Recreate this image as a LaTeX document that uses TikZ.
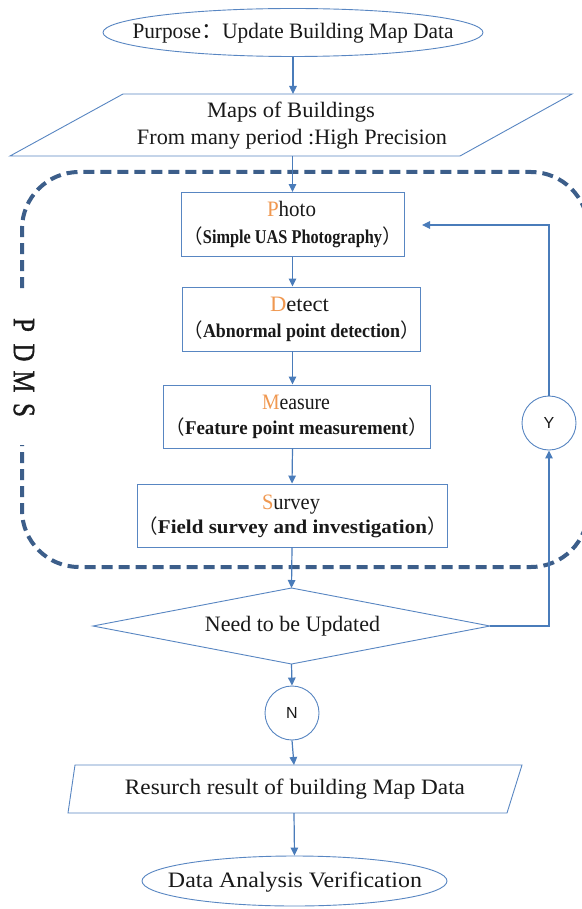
\documentclass[tikz,border=0pt]{standalone}
\usepackage{fontspec}
\usepackage{graphicx}
\setmainfont{Liberation Serif}
\newfontfamily\cjkfont{Noto Sans CJK SC}
\newfontfamily\labelsans{Liberation Sans}
\newfontfamily\pdmsfont{Liberation Serif}[FakeStretch=0.8,FakeBold=1.2]
\usetikzlibrary{shapes.geometric,arrows.meta}

\definecolor{boxblue}{RGB}{88,134,194}
\definecolor{linkblue}{RGB}{74,124,186}
\definecolor{frameblue}{RGB}{60,94,138}
\definecolor{inktext}{RGB}{25,25,25}
\definecolor{initialorange}{RGB}{240,152,80}

% set a line of text to a given width, keeping its height
\newcommand\fitw[2]{\resizebox{#1pt}{\height}{#2}}
% full-width brackets around a subtitle
\newcommand\fwparen[1]{{\cjkfont （}#1{\cjkfont ）}}
\newcommand\firstletter[1]{\textcolor{initialorange}{#1}}

\begin{document}
\begin{tikzpicture}[x=1pt,y=-1pt,
  shapeline/.style={draw=boxblue,line width=0.9pt},
  stepbox/.style={shapeline,fill=white,rectangle,inner sep=0pt},
  holder/.style={inner sep=0pt,outer sep=0pt,rectangle},
  txt/.style={text=inktext,inner sep=0pt,anchor=base,font=\fontsize{22}{26}\selectfont},
  subtxt/.style={text=inktext,inner sep=0pt,anchor=base,font=\fontsize{19.5}{24}\selectfont},
  link/.style={draw=linkblue,line width=1.2pt,-{Triangle[length=8pt,width=7.5pt]}},
  circ/.style={shapeline,circle,fill=white,minimum size=54pt,inner sep=0pt,
    font=\labelsans\fontsize{16}{16}\selectfont,text=inktext},
  pdmsframe/.style={draw=frameblue,line width=4pt,dash pattern=on 11pt off 6pt,rounded corners=57pt},
  pdmsletter/.style={rotate=-90,inner sep=0pt,text=inktext,font=\pdmsfont\fontsize{31}{31}\selectfont}
]
\useasboundingbox (0,0) rectangle (581,909);
\fill[white] (0,0) rectangle (581,909);

% PDMS loop frame, open on the left for its label
\draw[pdmsframe] (22,288) -- (22,172) -- (588,172) -- (588,567) -- (22,567) -- (22,445);
\node[pdmsletter] (lP) at (24,325) {P};
\node[pdmsletter] (lD) at (24,352.5) {D};
\node[pdmsletter] (lM) at (24,381.5) {M};
\node[pdmsletter] (lS) at (24,410) {S};

% start
\node[stepbox,ellipse,minimum width=380pt,minimum height=48pt] (purpose) at (293,32.5) {};
\node[txt] (purposeT) at (293,39) {\fitw{321}{Purpose{\cjkfont ：}Update Building Map Data}};

% input data
\node[holder,minimum width=340pt,minimum height=62pt] (maps) at (291,125) {};
\draw[shapeline] (123,94) -- (572,94) -- (460,156) -- (10,156) -- cycle;
\node[txt] (mapsA) at (291,118) {\fitw{168}{Maps of Buildings}};
\node[txt] (mapsB) at (292,145) {\fitw{310}{From many period :High Precision}};

% the four PDMS steps
\node[stepbox,minimum width=223pt,minimum height=64pt] (photo) at (292.5,224.5) {};
\node[txt] (photoT) at (291.5,217) {\fitw{49}{\firstletter{P}hoto}};
\node[subtxt] (photoS) at (292.5,243.5) {\fwparen{\fitw{179}{\bfseries Simple UAS Photography}}};

\node[stepbox,minimum width=238pt,minimum height=64pt] (detect) at (301,319) {};
\node[txt] (detectT) at (299.5,311) {\fitw{59}{\firstletter{D}etect}};
\node[subtxt] (detectS) at (301.5,337.5) {\fwparen{\fitw{197}{\bfseries Abnormal point detection}}};

\node[stepbox,minimum width=267pt,minimum height=63pt] (measure) at (296.5,416.5) {};
\node[txt] (measureT) at (296,409) {\fitw{68}{\firstletter{M}easure}};
\node[subtxt] (measureS) at (296.5,434.5) {\fwparen{\fitw{223}{\bfseries Feature point measurement}}};

\node[stepbox,minimum width=310pt,minimum height=63pt] (survey) at (292,515.5) {};
\node[txt] (surveyT) at (291,509) {\fitw{58}{\firstletter{S}urvey}};
\node[subtxt] (surveyS) at (292.5,533.5) {\fwparen{\fitw{269}{\bfseries Field survey and investigation}}};

% decision
\node[holder,minimum width=397pt,minimum height=76pt] (dec) at (291.5,626) {};
\draw[shapeline,fill=white] (dec.west) -- (dec.north) -- (dec.east) -- (dec.south) -- cycle;
\node[txt] (decT) at (292.5,631) {\fitw{175}{Need to be Updated}};

\node[circ] (N) at (292,713) {N};
\node[circ] (Y) at (549,423) {Y};

% output and end
\node[holder,minimum width=440pt,minimum height=48pt] (result) at (294,789) {};
\draw[shapeline] (75,765) -- (522,765) -- (507,813) -- (68,813) -- cycle;
\node[txt] (resultT) at (295,794) {\fitw{340}{Resurch result of building Map Data}};

\node[stepbox,ellipse,minimum width=305pt,minimum height=50pt] (data) at (294.5,881) {};
\node[txt] (dataT) at (295,887) {\fitw{254}{Data Analysis Verification}};

% connectors
\draw[link] (purpose.south) -- (purpose.south |- maps.north);
\draw[link] (maps.south -| photo.north) -- (photo.north);
\draw[link] (photo.south) -- (photo.south |- detect.north);
\draw[link] (photo.south |- detect.south) -- (photo.south |- measure.north);
\draw[link] (photo.south |- measure.south) -- (survey.north);
\draw[link] (survey.south) -- (dec.north);
\draw[link] (dec.south) -- (N.north);
\draw[link] (N.south) -- (result.north);
\draw[link] (result.south) -- (data.north);
\draw[link] (dec.east) -| (Y.south);
\coordinate (backtip) at (422,225);
\draw[link] (Y.north) |- (backtip);
\end{tikzpicture}
\end{document}
